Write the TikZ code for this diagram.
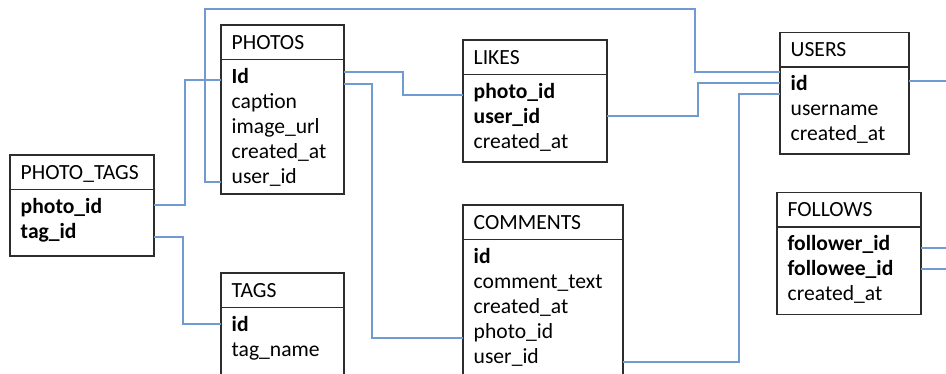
\documentclass[tikz,border=0pt]{standalone}
\usepackage{fontspec}
\setmainfont{Carlito}
\usetikzlibrary{calc}
\definecolor{boxline}{RGB}{45,45,45}
\definecolor{linkblue}{RGB}{112,155,208}
\newcommand{\ertable}[7]{%
  \node[tblbox, minimum width={#4-#2}, minimum height={#5-#3}, anchor=north west] (#1) at (#2,#3) {};
  \draw[tblline] ($(#1.north west)+(0,34.5)$) -- ($(#1.north east)+(0,34.5)$);
  \node[lbl] (#1-title) at (#2+10.5,#3+24.5) {#6};
  \foreach \t [count=\i] in {#7} {
    \node[lbl] (#1-\i) at (#2+10.5,#3+58.5+25*\i-25) {\t};
  }
}
\begin{document}
\begin{tikzpicture}[x=1pt,y=-1pt,
  tblbox/.style={draw=boxline, line width=1.4pt, fill=white, inner sep=0pt, outer sep=0pt},
  tblline/.style={draw=boxline, line width=1.4pt},
  lbl/.style={anchor=base west, inner sep=0pt, font=\fontsize{21.6}{25}\selectfont},
  link/.style={draw=linkblue, line width=1.1pt}]
\clip (0,0) rectangle (946,373);
\fill[white] (0,0) rectangle (946,373);

\ertable{photos}{221}{25}{344}{194}{PHOTOS}{\textbf{Id},caption,image\_url,created\_at,user\_id}
\ertable{phototags}{10}{155}{154}{256}{PHOTO\_TAGS}{\textbf{photo\_id},\textbf{tag\_id}}
\ertable{tags}{221}{273}{344}{400}{TAGS}{\textbf{id},tag\_name}
\ertable{likes}{463}{40}{607}{162}{LIKES}{\textbf{photo\_id},\textbf{user\_id},created\_at}
\ertable{comments}{463}{205}{623}{400}{COMMENTS}{\textbf{id},comment\_text,created\_at,photo\_id,user\_id}
\ertable{users}{780}{32.3}{909}{154}{USERS}{\textbf{id},username,created\_at}
\ertable{follows}{777}{192.3}{921}{314.3}{FOLLOWS}{\textbf{follower\_id},\textbf{followee\_id},created\_at}

\coordinate (edgeA) at (946,81);
\coordinate (edgeB) at (946,248);
\coordinate (edgeC) at (946,269);

% photos.user_id -> users.id
\draw[link] ($(photos.north west)+(0,157)$) -- ++(-16,0) |- (695,9) |- ($(users.north west)+(0,39.7)$);
% photo_tags.photo_id -> photos.Id
\draw[link] ($(phototags.north east)+(0,50)$) -- (185,205) |- ($(photos.north west)+(0,55)$);
% photo_tags.tag_id -> tags.id
\draw[link] ($(phototags.north east)+(0,82)$) -- (183,237) |- ($(tags.north west)+(0,51)$);
% photos.Id -> likes.photo_id
\draw[link] ($(photos.north east)+(0,47)$) -- (403,72) |- ($(likes.north west)+(0,55)$);
% photos.Id -> comments.photo_id
\draw[link] ($(photos.north east)+(0,59)$) -- (372,84) |- ($(comments.north west)+(0,133)$);
% likes.user_id -> users.id
\draw[link] ($(likes.north east)+(0,76)$) -- (698,116) |- ($(users.north west)+(0,50.7)$);
% comments.user_id -> users.id
\draw[link] ($(comments.north east)+(0,157)$) -- (739,362) |- ($(users.north west)+(0,61.7)$);
% users.id -> right
\draw[link] ($(users.north east)+(0,48.7)$) -- (edgeA);
% follows -> right
\draw[link] ($(follows.north east)+(0,55.7)$) -- (edgeB);
\draw[link] ($(follows.north east)+(0,76.7)$) -- (edgeC);
\end{tikzpicture}
\end{document}
